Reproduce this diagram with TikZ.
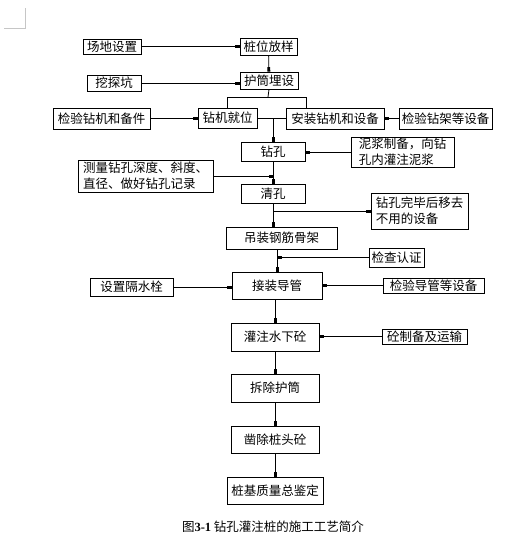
\documentclass[tikz,border=0pt]{standalone}
\usepackage{fontspec}
\setmainfont{Noto Sans CJK SC}
\newfontfamily\numfont{Liberation Serif}
\usetikzlibrary{arrows.meta}

\begin{document}
\begin{tikzpicture}[x=1pt,y=-1pt,
  box/.style={draw,line width=.8pt,inner sep=1pt,align=left,
              font=\fontsize{12.5}{16}\selectfont},
  arr/.style={line width=.8pt,-{Rectangle[length=4.5pt,width=2.8pt]}},
  ln/.style={line width=.8pt}]
  \useasboundingbox (0,0) rectangle (510,546);
  \draw[gray!45,line width=.6pt] (4,28) -- (25,28) -- (25,8);
  % main column
  \node[box,minimum width=57pt,minimum height=17pt] (stake) at (268.5,46.5) {桩位放样};
  \node[box,minimum width=58pt,minimum height=17pt] (casing) at (269,80.5) {护筒埋设};
  \node[box,minimum width=59pt,minimum height=20pt] (rigpos) at (227.5,118) {钻机就位};
  \node[box,minimum width=98pt,minimum height=21pt] (install) at (335,118.5) {安装钻机和设备};
  \node[box,minimum width=64pt,minimum height=19pt] (drill) at (273,151.5) {钻孔};
  \node[box,minimum width=64pt,minimum height=19pt] (clean) at (273,193.5) {清孔};
  \node[box,minimum width=111pt,minimum height=22pt] (cage) at (281.5,238) {吊装钢筋骨架};
  \node[box,minimum width=90pt,minimum height=27pt] (pipe) at (277,285.5) {接装导管};
  \node[box,minimum width=88pt,minimum height=28pt] (pour) at (275,337) {灌注水下砼};
  \node[box,minimum width=88pt,minimum height=28pt] (pull) at (275,388) {拆除护筒};
  \node[box,minimum width=88pt,minimum height=27pt] (chisel) at (275,439.5) {凿除桩头砼};
  \node[box,minimum width=96pt,minimum height=27pt] (quality) at (275,490.5) {桩基质量总鉴定};
  % side boxes
  \node[box,minimum width=58pt,minimum height=15pt] (site) at (112,46.5) {场地设置};
  \node[box,minimum width=54pt,minimum height=16pt] (pit) at (114,83) {挖探坑};
  \node[box,minimum width=97pt,minimum height=21pt] (chkrig) at (101.5,118.5) {检验钻机和备件};
  \node[box,minimum width=93pt,minimum height=21pt] (chkframe) at (445.5,118.5) {检验钻架等设备};
  \node[box,minimum width=103pt,minimum height=30pt] (mud) at (402.5,152) {泥浆制备，向钻\\孔内灌注泥浆};
  \node[box,minimum width=135pt,minimum height=32pt] (measure) at (145.5,176) {测量钻孔深度、斜度、\\直径、做好钻孔记录};
  \node[box,minimum width=97pt,minimum height=36pt] (remove) at (419.5,211) {钻孔完毕后移去\\不用的设备};
  \node[box,minimum width=55pt,minimum height=19pt] (check) at (396.5,257.5) {检查认证};
  \node[box,minimum width=83pt,minimum height=18pt] (plug) at (131.5,287) {设置隔水栓};
  \node[box,minimum width=101pt,minimum height=15pt] (chkpipe) at (433.5,285.5) {检验导管等设备};
  \node[box,minimum width=85pt,minimum height=15pt] (concrete) at (424.5,336.5) {砼制备及运输};
  \node[font=\fontsize{12.5}{15}\selectfont] (cap) at (273,527)
    {图{\numfont\bfseries 3-1} 钻孔灌注桩的施工工艺简介};
  % connectors
  \draw[arr] (site) -- (stake);
  \draw[arr] (stake) -- (casing);
  \draw[arr] (pit.east) -- (pit.east -| casing.west);
  \coordinate (split) at (268,97);
  \coordinate (splitR) at (306,97);
  \draw[ln] (casing.south) -- (split);
  \draw[ln] (rigpos.north) -- (split -| rigpos.north) -- (splitR) -- (splitR |- install.north);
  \draw[arr] (chkrig) -- (chkrig -| rigpos.west);
  \draw[arr] (chkframe) -- (chkframe -| install.east);
  \draw[ln] (rigpos.east) -- (rigpos.east -| install.west);
  \draw[arr] (drill.north |- rigpos.east) -- (drill.north);
  \draw[arr] (mud.west) -- (mud.west -| drill.east);
  \draw[arr] (drill) -- (clean);
  \draw[arr] (measure.east) -- (measure.east -| drill.south);
  \draw[arr] (clean.south) -- (clean.south |- cage.north);
  \draw[arr] (clean.south |- remove.west) -- (remove.west);
  \draw[arr] (cage.south -| pipe.north) -- (pipe.north);
  \draw[arr] (check.west) -- (check.west -| pipe.north);
  \draw[arr] (plug) -- (plug -| pipe.west);
  \draw[arr] (chkpipe) -- (chkpipe -| pipe.east);
  \draw[arr] (pipe.south -| pour.north) -- (pour.north);
  \draw[arr] (concrete) -- (concrete -| pour.east);
  \draw[arr] (pour) -- (pull);
  \draw[arr] (pull) -- (chisel);
  \draw[arr] (chisel) -- (quality);
\end{tikzpicture}
\end{document}
